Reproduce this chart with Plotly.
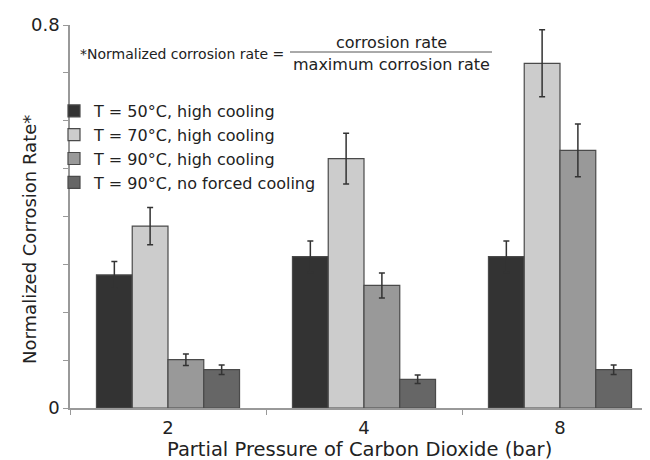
import plotly.graph_objects as go

categories = ["2", "4", "8"]
series_names = [
    "T = 50°C, high cooling",
    "T = 70°C, high cooling",
    "T = 90°C, high cooling",
    "T = 90°C, no forced cooling",
]
values_50_high = [0.278, 0.316, 0.316]
values_70_high = [0.380, 0.521, 0.720]
values_90_high = [0.101, 0.256, 0.538]
values_90_none = [0.080, 0.060, 0.080]
err_50_high = [0.028, 0.033, 0.033]
err_70_high = [0.039, 0.053, 0.070]
err_90_high = [0.012, 0.026, 0.055]
err_90_none = [0.010, 0.009, 0.010]
colors = ["#333333", "#cccccc", "#999999", "#666666"]

y_tick_vals = [0, 0.1, 0.2, 0.3, 0.4, 0.5, 0.6, 0.7, 0.8]
y_tick_text = ["0", "", "", "", "", "", "", "", "0.8"]

FONT = "DejaVu Sans, Liberation Sans, Arial, sans-serif"

L, R, T, B = 62, 650, 17, 400


def px(x):
    return (x - L) / (R - L)


def py(y):
    return (B - y) / (B - T)


fig = go.Figure()
all_vals = [values_50_high, values_70_high, values_90_high, values_90_none]
all_errs = [err_50_high, err_70_high, err_90_high, err_90_none]
for name, vals, errs, col in zip(series_names, all_vals, all_errs, colors):
    fig.add_trace(go.Bar(
        x=categories, y=vals, name=name,
        marker=dict(color=col, line=dict(color="#4a4a4a", width=1.2)),
        error_y=dict(type="data", array=errs, visible=True,
                     color="#333333", thickness=1.5, width=3),
    ))

fig.update_layout(
    width=650, height=460,
    margin=dict(l=L, r=650 - R, t=T, b=460 - B),
    paper_bgcolor="white", plot_bgcolor="white",
    barmode="group", bargap=0.27, bargroupgap=0,
    font=dict(family=FONT, color="#222222", size=16),
    showlegend=True,
    legend=dict(
        x=px(46), y=py(86), xanchor="left", yanchor="top",
        bgcolor="rgba(0,0,0,0)", font=dict(size=16, family=FONT, color="#222222"),
        itemwidth=30, tracegroupgap=0,
    ),
    xaxis=dict(
        type="category", range=[-0.5, 2.5],
        showline=True, linecolor="#999999", linewidth=1.5,
        ticks="outside", tickson="boundaries", ticklen=5, tickcolor="#999999",
        tickfont=dict(size=18), showgrid=False, zeroline=False,
        ticklabelstandoff=3,
    ),
    yaxis=dict(
        range=[0, 0.8], tickvals=y_tick_vals, ticktext=y_tick_text,
        showline=True, linecolor="#999999", linewidth=1.5,
        ticks="outside", ticklen=5, tickcolor="#999999",
        tickfont=dict(size=18), showgrid=False, zeroline=False,
    ),
)

fig.add_annotation(
    text="Partial Pressure of Carbon Dioxide (bar)",
    xref="paper", yref="paper", x=px(351), y=py(441),
    xanchor="center", yanchor="middle",
    showarrow=False, font=dict(size=19.5, family=FONT),
)
fig.add_annotation(
    text="Normalized Corrosion Rate*", textangle=-90,
    xref="paper", yref="paper", x=px(21), y=py(232), xanchor="center", yanchor="middle",
    showarrow=False, font=dict(size=18, family=FONT),
)
fig.add_annotation(
    text="*Normalized corrosion rate =",
    xref="paper", yref="paper", x=px(70), y=py(46),
    xanchor="left", yanchor="middle", showarrow=False,
    font=dict(size=14, family=FONT),
)
fig.add_annotation(
    text="corrosion rate",
    xref="paper", yref="paper", x=px(383), y=py(34),
    xanchor="center", yanchor="middle", showarrow=False,
    font=dict(size=16, family=FONT),
)
fig.add_annotation(
    text="maximum corrosion rate",
    xref="paper", yref="paper", x=px(383), y=py(57),
    xanchor="center", yanchor="middle", showarrow=False,
    font=dict(size=16, family=FONT),
)
fig.add_shape(
    type="line", xref="paper", yref="paper",
    x0=px(282), x1=px(484), y0=py(44), y1=py(44),
    line=dict(color="#555555", width=1),
)

fig.write_html("out.html")
